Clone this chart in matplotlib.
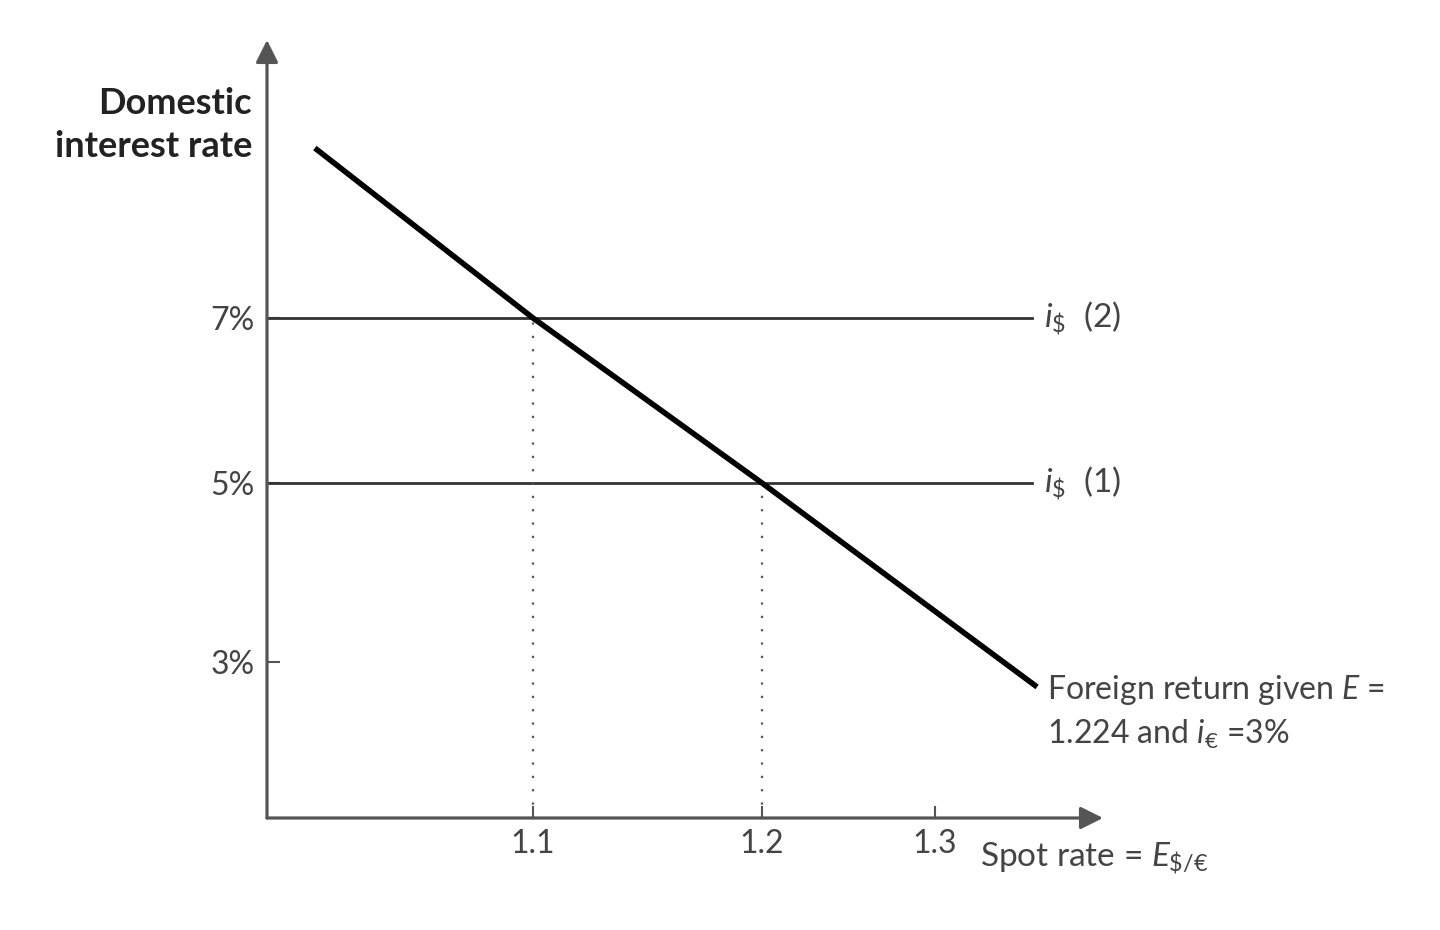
import numpy as np
import matplotlib
matplotlib.use("Agg")
import matplotlib.pyplot as plt

# --- values ---
x_ticks = [1.1, 1.2, 1.3]
x_tick_labels = ["1.1", "1.2", "1.3"]
y_ticks = [3, 5, 7]
y_tick_labels = ["3%", "5%", "7%"]
domestic_rates = [5, 7]                      # i$ (1), i$ (2)
domestic_labels = [r"$i_{\$}$  (1)", r"$i_{\$}$  (2)"]
equilibrium_spot = [1.2, 1.1]                # where each i$ meets the foreign return
foreign_spot = [1.018, 1.1, 1.2, 1.359]
foreign_return = [9.06, 7, 5, 2.68]
rate_line_end = 1.356

# schematic axes are not evenly spaced: piecewise map value -> pixels from origin
X_VAL = [1.0, 1.1, 1.2, 1.3, 1.4]
X_PX = [0, 266, 495, 668, 841]
Y_VAL = [1, 3, 5, 7, 11]
Y_PX = [0, 156, 335, 500, 830]

AXC, LINE, TXT = "#555555", "#333333", "#444444"
FS = 23
plt.rcParams.update({"font.family": "Lato", "mathtext.fontset": "custom",
                     "mathtext.rm": "Lato", "mathtext.it": "Lato:italic",
                     "mathtext.bf": "Lato:bold"})

fig = plt.figure(figsize=(14.4, 9.3), dpi=100)
ax = fig.add_axes([267 / 1440, 112 / 930, 836 / 1440, 778 / 930])
ax.set_xscale("function", functions=(lambda v: np.interp(v, X_VAL, X_PX),
                                     lambda p: np.interp(p, X_PX, X_VAL)))
ax.set_yscale("function", functions=(lambda v: np.interp(v, Y_VAL, Y_PX),
                                     lambda p: np.interp(p, Y_PX, Y_VAL)))
ax.set_xlim(1.0, np.interp(836, X_PX, X_VAL))
ax.set_ylim(1, np.interp(778, Y_PX, Y_VAL))
for s in ax.spines.values():
    s.set_visible(False)

# axes with arrow heads
for tip in [(1, 0), (0, 1)]:
    ax.annotate("", xy=tip, xytext=(0, 0), xycoords="axes fraction",
                arrowprops=dict(arrowstyle="-|>", color=AXC, lw=2.3,
                                mutation_scale=34, shrinkA=0, shrinkB=0),
                annotation_clip=False)

ax.set_xticks(x_ticks, x_tick_labels)
ax.set_yticks(y_ticks, y_tick_labels)
ax.xaxis.set_minor_locator(matplotlib.ticker.NullLocator())
ax.yaxis.set_minor_locator(matplotlib.ticker.NullLocator())
ax.tick_params(direction="in", length=9, width=1.5, color=AXC,
               labelsize=FS, labelcolor=TXT)
ax.tick_params(axis="x", pad=8)
ax.tick_params(axis="y", pad=9)

# domestic interest rate lines and dotted drop lines
for r, lab, e in zip(domestic_rates, domestic_labels, equilibrium_spot):
    ax.plot([X_VAL[0], rate_line_end], [r, r], color=LINE, lw=2, clip_on=False)
    ax.text(rate_line_end + 0.007, r, lab, fontsize=FS + 1, color=TXT,
            ha="left", va="center")
    ax.plot([e, e], [Y_VAL[0], r], color=AXC, lw=1.6, ls=(0, (1, 5)))

# foreign return curve
ax.plot(foreign_spot, foreign_return, color="black", lw=4, solid_capstyle="butt",
        clip_on=False)
ax.text(foreign_spot[-1] + 0.006, foreign_return[-1] - 0.32,
        "Foreign return given $E$ =\n1.224 and $i_{€}$ =3%", fontsize=FS,
        color=TXT, ha="left", va="center", linespacing=1.4)

fig.text(252 / 1440, 1 - 125 / 930, "Domestic\ninterest rate", fontsize=26,
         fontweight="bold", color="#222222", ha="right", va="center",
         linespacing=1.4)
fig.text(980 / 1440, 1 - 858 / 930, r"Spot rate = $E_{\$/€}$", fontsize=FS + 1,
         color=TXT, ha="left", va="center")

fig.savefig("out.png", dpi=100)
